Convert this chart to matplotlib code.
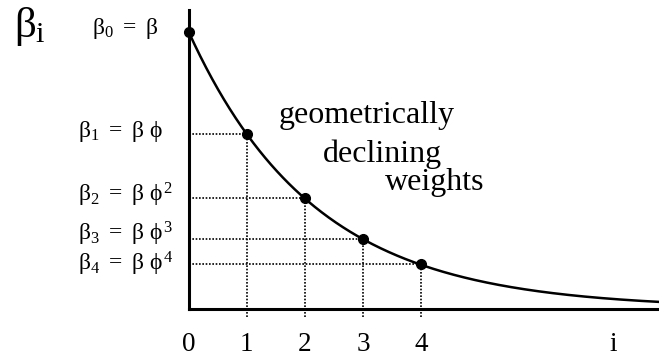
import numpy as np
import matplotlib
matplotlib.use("Agg")
import matplotlib.pyplot as plt

plt.rcParams['font.family'] = ['Liberation Serif', 'DejaVu Serif']
plt.rcParams['mathtext.fontset'] = 'custom'
plt.rcParams['mathtext.rm'] = 'Liberation Serif'
plt.rcParams['mathtext.it'] = 'Liberation Serif'
plt.rcParams['mathtext.bf'] = 'Liberation Serif:bold'

# values
phi = 0.63
lags = [0, 1, 2, 3, 4]
weights = [1.0, 0.63, 0.40, 0.25, 0.16]
labels = [r'$\beta_0\ =\ \beta$',
          r'$\beta_1\ =\ \beta\ \phi$',
          r'$\beta_2\ =\ \beta\ \phi^2$',
          r'$\beta_3\ =\ \beta\ \phi^3$',
          r'$\beta_4\ =\ \beta\ \phi^4$']
tick_pos = [0, 1, 2, 3, 4, 7.3]
tick_lab = ['0', '1', '2', '3', '4', 'i']

W, H = 659, 358
fig = plt.figure(figsize=(W / 100, H / 100), dpi=100)
ax = fig.add_axes([188.5 / W, 49.5 / H, 470.5 / W, 298.5 / H])

xmax = 470.5 / 58.2
ymax = 298.5 / 277
xs = np.linspace(0, xmax, 400)
ax.plot(xs, phi ** xs, color='black', lw=1.8, clip_on=False)

for x, w in zip(lags[1:], weights[1:]):
    ax.plot([0, x], [w, w], color='black', lw=1.2, ls=(0, (1, 1)))
    ax.plot([x, x], [-0.03, w], color='black', lw=1.2, ls=(0, (1, 1)), clip_on=False)

ax.plot(lags, weights, 'o', color='black', ms=7, clip_on=False, zorder=5)

# labels on the left (small nudges keep the two lowest apart)
nudge = [2, 2, 2, 3.5, 0.5]
for k, (w, s) in enumerate(zip(weights, labels)):
    x0 = -1.66 if k == 0 else -1.90
    ax.annotate(s, (x0, w), xytext=(0, nudge[k]), textcoords='offset points',
                fontsize=17, ha='left', va='center', annotation_clip=False)

fig.text(14 / W, 1 - 37 / H, r'$\beta_\mathrm{i}$', fontsize=31, ha='left', va='baseline')

fig.text(279 / W, 1 - 123 / H, 'geometrically', fontsize=23, ha='left', va='baseline')
fig.text(323 / W, 1 - 162 / H, 'declining', fontsize=23, ha='left', va='baseline')
fig.text(385 / W, 1 - 190 / H, 'weights', fontsize=23, ha='left', va='baseline')

ax.set_xlim(0, xmax)
ax.set_ylim(0, ymax)
ax.set_xticks(tick_pos)
ax.set_xticklabels(tick_lab, fontsize=19.5)
ax.tick_params(axis='x', length=0, pad=17)
ax.set_yticks([])
for side in ['top', 'right']:
    ax.spines[side].set_visible(False)
for side in ['left', 'bottom']:
    ax.spines[side].set_linewidth(2.2)

fig.savefig('out.png', dpi=100)
